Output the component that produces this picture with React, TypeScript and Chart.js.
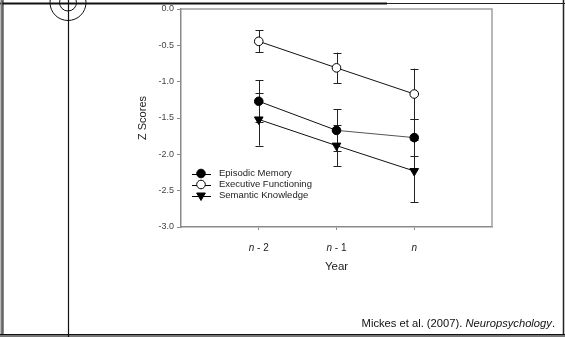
import React, { useEffect, useRef } from 'react';
import { Chart, registerables } from 'chart.js';

Chart.register(...registerables);

const categories = ['n - 2', 'n - 1', 'n'];
const seriesNames = ['Episodic Memory', 'Executive Functioning', 'Semantic Knowledge'];
const episodic = [-1.27, -1.67, -1.77];
const episodicErr = [0.29, 0.29, 0.25];
const executive = [-0.445, -0.81, -1.17];
const executiveErr = [0.15, 0.21, 0.35];
const semantic = [-1.52, -1.88, -2.23];
const semanticErr = [0.36, 0.28, 0.43];
const yTickValues = [0, -0.5, -1.0, -1.5, -2.0, -2.5, -3.0];

const FONT = '"Liberation Sans", Arial, Helvetica, sans-serif';
const AXIS_GRAY = '#8a8a8a';

const errors = [episodicErr, executiveErr, semanticErr];
const markerKinds = ['filled', 'open', 'triangle'];

function drawMarker(ctx: CanvasRenderingContext2D, kind: string, x: number, y: number) {
  ctx.save();
  ctx.lineWidth = 1;
  ctx.strokeStyle = '#000';
  if (kind === 'triangle') {
    const r = 5;
    ctx.beginPath();
    ctx.moveTo(x - r * 0.866, y - r * 0.5);
    ctx.lineTo(x + r * 0.866, y - r * 0.5);
    ctx.lineTo(x, y + r);
    ctx.closePath();
    ctx.fillStyle = '#000';
    ctx.fill();
    ctx.stroke();
  } else {
    ctx.beginPath();
    ctx.arc(x, y, 4.3, 0, Math.PI * 2);
    ctx.fillStyle = kind === 'open' ? '#fff' : '#000';
    ctx.fill();
    ctx.stroke();
  }
  ctx.restore();
}

const errorBarPlugin = {
  id: 'errorBars',
  beforeDatasetsDraw(chart: any) {
    const { ctx, scales } = chart;
    const xs = scales.x;
    const ys = scales.y;
    ctx.save();
    ctx.strokeStyle = '#222';
    ctx.lineWidth = 1;
    chart.data.datasets.forEach((ds: any, i: number) => {
      ds.data.forEach((p: any, j: number) => {
        const e = errors[i][j];
        const x = Math.round(xs.getPixelForValue(p.x)) + 0.5;
        const yT = ys.getPixelForValue(p.y + e);
        const yB = ys.getPixelForValue(p.y - e);
        ctx.beginPath();
        ctx.moveTo(x, yT);
        ctx.lineTo(x, yB);
        ctx.moveTo(x - 4, Math.round(yT) + 0.5);
        ctx.lineTo(x + 4, Math.round(yT) + 0.5);
        ctx.moveTo(x - 4, Math.round(yB) + 0.5);
        ctx.lineTo(x + 4, Math.round(yB) + 0.5);
        ctx.stroke();
      });
    });
    ctx.restore();
  },
};

const framePlugin = {
  id: 'frameAndLabels',
  afterDraw(chart: any) {
    const { ctx, chartArea, scales } = chart;
    const { left, top, right, bottom } = chartArea;
    ctx.save();
    ctx.strokeStyle = '#a0a0a0';
    ctx.lineWidth = 1.5;
    ctx.beginPath();
    ctx.moveTo(left, top);
    ctx.lineTo(right, top);
    ctx.lineTo(right, bottom);
    ctx.stroke();

    const xs = scales.x;
    ctx.fillStyle = '#222';
    ctx.textBaseline = 'middle';
    categories.forEach((label, i) => {
      const x = xs.getPixelForValue(i + 1);
      const first = label.slice(0, 1);
      const rest = label.slice(1);
      ctx.font = `italic 10px ${FONT}`;
      const w1 = ctx.measureText(first).width;
      ctx.font = `10px ${FONT}`;
      const w2 = ctx.measureText(rest).width;
      const start = x - (w1 + w2) / 2;
      ctx.textAlign = 'left';
      ctx.font = `italic 10px ${FONT}`;
      ctx.fillText(first, start, bottom + 21);
      ctx.font = `10px ${FONT}`;
      ctx.fillText(rest, start + w1, bottom + 21);
    });

    const rows = [bottom - 53.5, bottom - 42.5, bottom - 31.5];
    seriesNames.forEach((name, i) => {
      const y = rows[i];
      ctx.strokeStyle = '#000';
      ctx.lineWidth = 1;
      ctx.beginPath();
      ctx.moveTo(left + 11, Math.round(y) + 0.5);
      ctx.lineTo(left + 30, Math.round(y) + 0.5);
      ctx.stroke();
      drawMarker(ctx, markerKinds[i], left + 20, y);
      ctx.fillStyle = '#222';
      ctx.font = `9.5px ${FONT}`;
      ctx.textAlign = 'left';
      ctx.textBaseline = 'middle';
      ctx.fillText(name, left + 38, y);
    });
    ctx.restore();
  },
};

export default function App() {
  const ref = useRef<HTMLCanvasElement | null>(null);

  useEffect(() => {
    if (!ref.current) return;
    const mk = (vals: number[]) => vals.map((v, i) => ({ x: i + 1, y: v }));
    const chart = new Chart(ref.current, {
      type: 'line',
      data: {
        datasets: [
          {
            label: seriesNames[0],
            data: mk(episodic),
            borderColor: '#111',
            borderWidth: 1,
            segment: {
              borderColor: (c: any) => (c.p0DataIndex === 1 ? '#555' : '#111'),
            },
            pointStyle: 'circle',
            pointRadius: 4.3,
            pointBackgroundColor: '#000',
            pointBorderColor: '#000',
            pointBorderWidth: 1,
          },
          {
            label: seriesNames[1],
            data: mk(executive),
            borderColor: '#111',
            borderWidth: 1,
            pointStyle: 'circle',
            pointRadius: 4.3,
            pointBackgroundColor: '#fff',
            pointBorderColor: '#000',
            pointBorderWidth: 1,
          },
          {
            label: seriesNames[2],
            data: mk(semantic),
            borderColor: '#111',
            borderWidth: 1,
            pointStyle: 'triangle',
            pointRotation: 180,
            pointRadius: 5,
            pointBackgroundColor: '#000',
            pointBorderColor: '#000',
            pointBorderWidth: 1,
          },
        ],
      },
      options: {
        animation: false,
        responsive: false,
        maintainAspectRatio: false,
        layout: { padding: { left: 130, top: 9, right: 73, bottom: 63 } },
        plugins: { legend: { display: false }, tooltip: { enabled: false } },
        scales: {
          x: {
            type: 'linear',
            min: 0,
            max: 4,
            afterBuildTicks: (scale: any) => {
              scale.ticks = categories.map((_, i) => ({ value: i + 1 }));
            },
            afterFit: (scale: any) => {
              scale.height = 47;
            },
            ticks: { display: false },
            grid: { drawOnChartArea: false, drawTicks: true, tickLength: 3, color: AXIS_GRAY },
            border: { color: AXIS_GRAY, width: 1.5 },
            title: {
              display: true,
              text: 'Year',
              color: '#222',
              font: { family: FONT, size: 11.5 },
              padding: { top: 0, bottom: 0 },
            },
          },
          y: {
            type: 'linear',
            min: -3,
            max: 0,
            afterBuildTicks: (scale: any) => {
              scale.ticks = yTickValues.map((v) => ({ value: v }));
            },
            afterFit: (scale: any) => {
              scale.width = 51;
            },
            ticks: {
              color: '#444',
              font: { family: FONT, size: 9 },
              padding: 3,
              callback: (v: any) => Number(v).toFixed(1),
            },
            grid: { drawOnChartArea: false, drawTicks: true, tickLength: 4, color: AXIS_GRAY },
            border: { color: AXIS_GRAY, width: 1.5 },
            title: {
              display: true,
              text: 'Z Scores',
              color: '#222',
              font: { family: FONT, size: 11 },
              padding: { top: 6, bottom: 0 },
            },
          },
        },
      },
      plugins: [errorBarPlugin, framePlugin],
    } as any);
    return () => chart.destroy();
  }, []);

  return (
    <div style={{ position: 'absolute', left: 0, top: 0, width: 565, height: 337, background: '#fff', overflow: 'hidden' }}>
      <canvas ref={ref} width={565} height={337} style={{ position: 'absolute', left: 0, top: 0, width: 565, height: 337 }} />
      <svg width={565} height={337} style={{ position: 'absolute', left: 0, top: 0, pointerEvents: 'none' }}>
        <line x1={0} y1={3.5} x2={387} y2={3.5} stroke="#111" strokeWidth={2} />
        <line x1={387} y1={3.5} x2={565} y2={3.5} stroke="#222" strokeWidth={1} />
        <line x1={563.5} y1={0} x2={563.5} y2={337} stroke="#222" strokeWidth={1.5} />
        <line x1={1.5} y1={0} x2={1.5} y2={337} stroke="#777" strokeWidth={2} />
        <line x1={3} y1={0} x2={3} y2={337} stroke="#111" strokeWidth={1} />
        <line x1={0} y1={334.5} x2={565} y2={334.5} stroke="#111" strokeWidth={1} />
        <line x1={0} y1={336} x2={565} y2={336} stroke="#777" strokeWidth={2} />
        <line x1={68.5} y1={0} x2={68.5} y2={337} stroke="#111" strokeWidth={1.2} />
        <circle cx={68} cy={2.5} r={18} fill="none" stroke="#111" strokeWidth={1} />
        <circle cx={68} cy={2.5} r={8.5} fill="none" stroke="#111" strokeWidth={1} />
      </svg>
      <div
        style={{
          position: 'absolute',
          right: 10,
          top: 316,
          fontFamily: FONT,
          fontSize: 11.2,
          lineHeight: '14px',
          color: '#111',
          whiteSpace: 'nowrap',
        }}
      >
        Mickes et al. (2007). <i>Neuropsychology</i>.
      </div>
    </div>
  );
}
